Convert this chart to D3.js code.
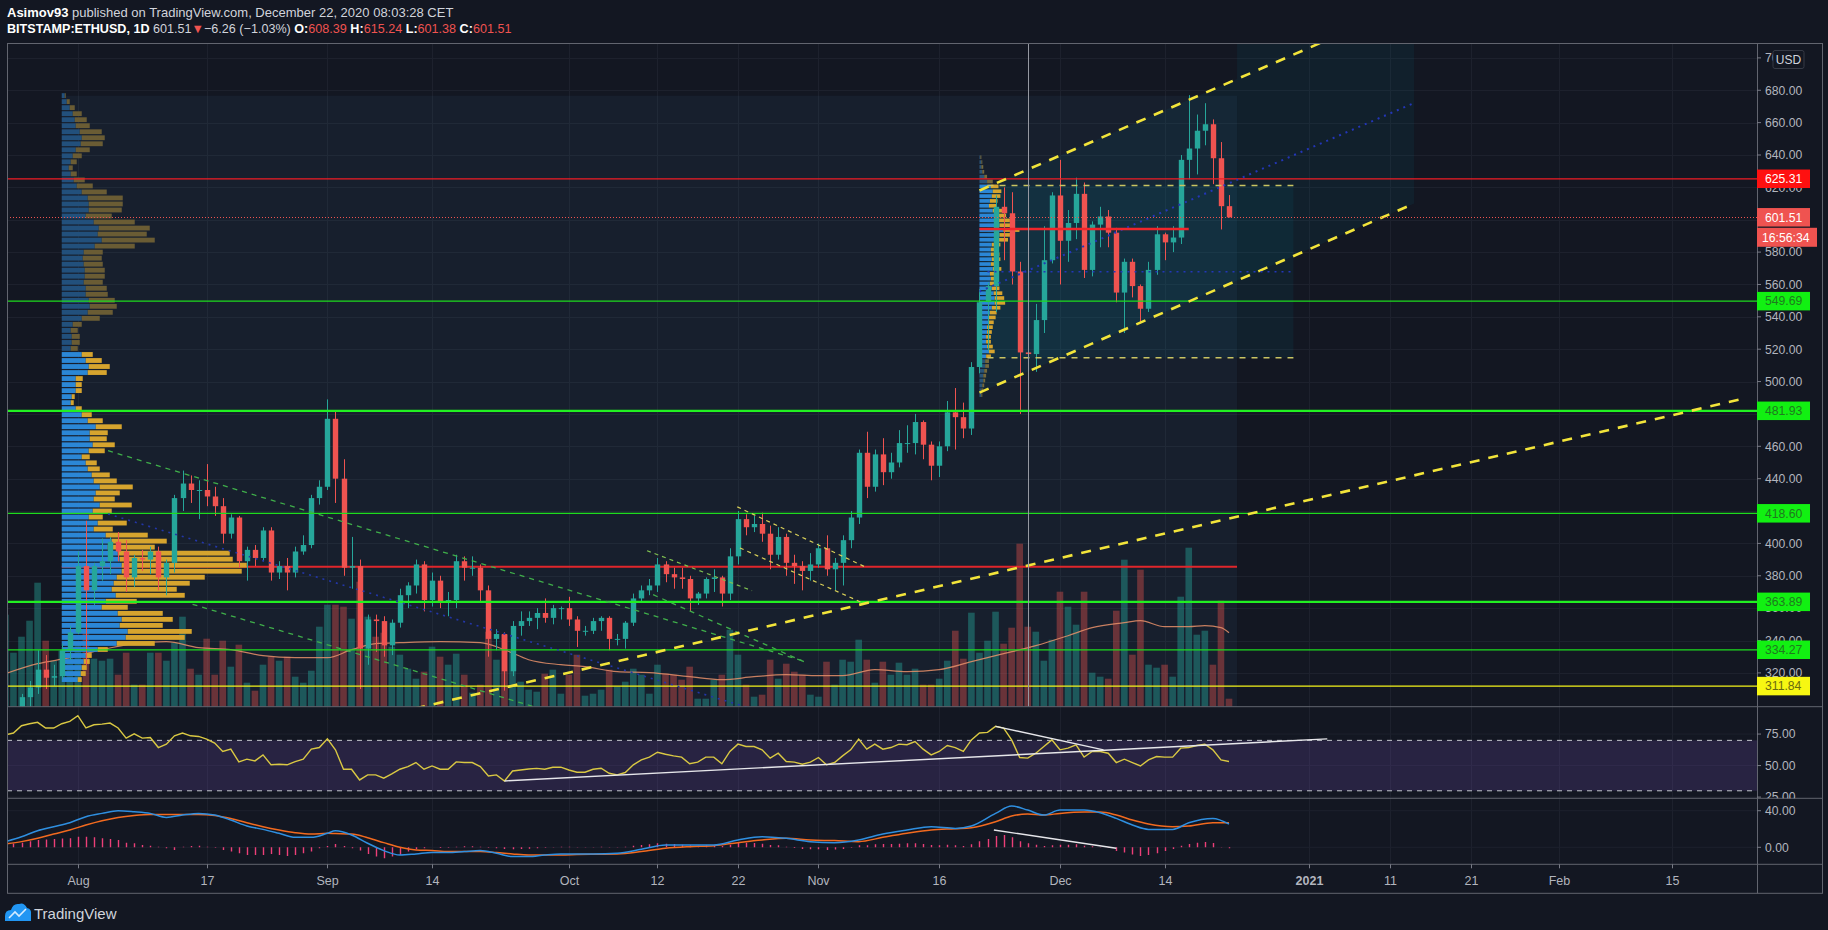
<!DOCTYPE html>
<html>
<head>
<meta charset="utf-8">
<script src="https://d3js.org/d3.v7.min.js"></script>
<style>
  html, body { margin: 0; padding: 0; background: #131722; }
  svg { display: block; }
  text { font-family: "Liberation Sans", Arial, sans-serif; }
</style>
</head>
<body>
<svg id="chart" width="1828" height="930"></svg>
<script>
// ---- daily candles, BITSTAMP:ETHUSD 1D, first bar 2020-07-23 ----
const firstDay = "2020-07-23";
const opens = [
  263, 275, 279, 305, 311, 322, 317, 318, 334,
  345, 386, 371, 386, 389, 401, 395, 379, 391, 390, 395, 379, 388, 428, 437, 433, 433, 429, 423, 406, 416, 389, 396, 391, 408, 382, 386, 382, 395, 399, 428,
  435, 477, 440, 385, 386, 335, 353, 352, 337, 351, 368, 374, 387, 365, 377, 364, 365, 389, 385, 385, 371, 341, 344, 321, 349, 352, 354, 357, 354, 360,
  360, 353, 346, 346, 352, 354, 341, 341, 351, 366, 371, 374, 387, 381, 379, 378, 366, 369, 378, 379, 369, 392, 415, 410, 412, 406, 393, 404, 388, 386, 383,
  387, 397, 384, 388, 402, 416, 456, 435, 455, 444, 450, 462, 462, 475, 461, 448, 460, 481, 478, 471, 509, 549, 559, 608, 604, 568, 518, 517, 538, 575,
  615, 587, 598, 616, 569, 597, 602, 592, 555, 574, 559, 545, 569, 591, 586, 589, 637, 644, 655, 659, 638, 608.39
];
const highs = [
  276, 283, 307, 315, 334, 331, 325, 338, 349,
  395, 414, 388, 403, 404, 407, 402, 393, 396, 398, 398, 390, 430, 445, 442, 439, 449, 435, 428, 418, 417, 398, 399, 410, 410, 389, 391, 398, 405, 430, 439,
  489, 482, 452, 404, 390, 356, 356, 355, 353, 372, 376, 390, 389, 382, 380, 370, 393, 392, 392, 387, 374, 347, 345, 352, 358, 358, 360, 366, 362, 361,
  367, 355, 349, 354, 355, 355, 344, 352, 369, 374, 378, 391, 389, 385, 385, 380, 370, 379, 384, 380, 397, 420, 418, 417, 419, 411, 410, 406, 393, 389, 394,
  400, 405, 391, 405, 420, 458, 469, 458, 465, 456, 470, 473, 480, 476, 463, 463, 488, 496, 487, 512, 557, 561, 615, 620, 617, 574, 534, 548, 596, 617,
  637, 606, 626, 623, 599, 608, 606, 595, 576, 576, 560, 574, 596, 592, 596, 640, 677, 665, 672, 662, 648, 615.24
];
const lows = [
  260, 273, 278, 298, 307, 310, 312, 316, 328,
  344, 325, 362, 377, 381, 389, 370, 373, 383, 381, 371, 368, 382, 420, 425, 415, 423, 417, 400, 403, 385, 377, 386, 389, 377, 378, 371, 379, 393, 397, 424,
  433, 425, 380, 372, 310, 325, 333, 330, 331, 348, 360, 369, 358, 361, 360, 355, 360, 377, 380, 364, 330, 334, 309, 318, 343, 349, 347, 351, 350, 353,
  349, 336, 343, 344, 346, 334, 337, 335, 349, 364, 368, 370, 376, 372, 372, 358, 362, 366, 370, 361, 365, 387, 405, 407, 401, 384, 390, 380, 375, 371, 377,
  385, 380, 371, 374, 397, 412, 428, 432, 436, 440, 447, 456, 455, 452, 439, 441, 457, 458, 465, 467, 505, 519, 543, 575, 560, 480, 485, 506, 530, 573,
  560, 574, 588, 564, 565, 583, 583, 549, 530, 552, 537, 543, 566, 575, 580, 585, 625, 628, 646, 622, 594, 601.38
];
const closes = [
  275, 279, 305, 311, 322, 317, 318, 334, 345,
  386, 371, 386, 389, 401, 395, 379, 391, 390, 395, 379, 388, 428, 437, 433, 433, 429, 423, 406, 416, 389, 396, 391, 408, 382, 386, 382, 395, 399, 428, 435,
  477, 440, 385, 386, 335, 353, 352, 337, 351, 368, 374, 387, 365, 377, 364, 365, 389, 385, 385, 371, 341, 344, 321, 349, 352, 354, 357, 354, 360, 360,
  353, 346, 346, 352, 354, 341, 341, 351, 366, 371, 374, 387, 381, 379, 378, 366, 369, 378, 379, 369, 392, 415, 410, 412, 406, 393, 404, 388, 386, 383, 387,
  397, 384, 388, 402, 416, 456, 435, 455, 444, 450, 462, 462, 475, 461, 448, 460, 481, 478, 471, 509, 549, 559, 608, 604, 568, 518, 517, 538, 575, 615,
  587, 598, 616, 569, 597, 602, 592, 555, 574, 559, 545, 569, 591, 586, 589, 637, 644, 655, 659, 638, 608.39, 601.51
];
// volume (thousand ETH)
const volumes = [
  92, 54, 70, 86, 124, 66, 46, 56, 54,
  62, 78, 48, 46, 48, 32, 54, 22, 22, 54, 54, 46, 64, 90, 38, 32, 68, 32, 66, 40, 62, 24, 16, 42, 50, 46, 50, 30, 24, 36, 80,
  102, 102, 100, 88, 125, 90, 70, 74, 60, 52, 38, 28, 35, 60, 50, 42, 53, 32, 14, 22, 75, 47, 72, 57, 25, 17, 15, 33, 37, 13,
  32, 52, 11, 13, 17, 37, 20, 25, 38, 32, 13, 42, 33, 32, 27, 40, 8, 8, 27, 32, 77, 52, 22, 10, 12, 47, 28, 43, 35, 32, 12,
  10, 45, 22, 47, 45, 67, 47, 24, 45, 32, 44, 32, 38, 22, 22, 28, 46, 76, 48, 94, 54, 66, 95, 63, 79, 163, 80, 75, 46, 67,
  115, 100, 82, 115, 34, 30, 28, 96, 147, 52, 137, 42, 39, 42, 30, 110, 159, 72, 76, 42, 106, 8
];
const volMaDates = ["2020-07-23", "2020-07-27", "2020-07-31", "2020-08-04", "2020-08-08", "2020-08-12", "2020-08-16", "2020-08-20",
  "2020-08-24", "2020-08-28", "2020-09-01", "2020-09-04", "2020-09-07", "2020-09-10", "2020-09-15", "2020-09-20", "2020-09-23",
  "2020-09-26", "2020-09-30", "2020-10-03", "2020-10-07", "2020-10-11", "2020-10-16", "2020-10-20", "2020-10-24", "2020-10-28",
  "2020-11-01", "2020-11-04", "2020-11-08", "2020-11-12", "2020-11-16", "2020-11-20", "2020-11-24", "2020-11-28", "2020-12-02",
  "2020-12-05", "2020-12-09", "2020-12-11", "2020-12-14", "2020-12-17", "2020-12-19", "2020-12-21", "2020-12-22"];
const volMaValues = [33, 43, 49, 57, 63, 65, 59, 57, 51, 49, 49, 57, 63, 64, 65, 64, 57, 47, 42, 40, 35, 34, 30, 27, 30, 32,
  31, 31, 37, 35, 37, 45, 53, 61, 71, 79, 84, 86, 80, 80, 81, 79, 74];

// RSI(14), one value per bar
const rsiValues = [
  74.4, 75.8, 81.6, 83.2, 84.3, 79.8, 79.8, 83.2, 85.1,
  89.6, 79.8, 82.4, 82.9, 83.7, 79.8, 71.8, 75.2, 71.8, 72.3, 64.3, 67, 73.6, 75.8, 73.6, 73.1, 71, 67.8, 61.2, 63, 52.9, 55.1, 53.7, 58.5, 50.6, 51.1, 50.6, 53.2, 55.1, 63, 64.3,
  71.2, 62.5, 47.1, 47.1, 38.6, 42.6, 42.6, 40, 43.4, 47.1, 49.2, 52.4, 47.1, 49.7, 47.1, 47.1, 52.9, 52.4, 52.4, 49.2, 41.8, 42.6, 37.8, 45.7, 46.5, 47.3, 47.8, 47.1, 48.7, 48.7,
  46.5, 44.7, 44.7, 47.1, 47.9, 43.9, 42.6, 44.5, 50.6, 54.5, 56.7, 60.6, 59, 57.7, 56.7, 51.4, 52.7, 56.7, 56.7, 51.4, 61.2, 67, 65.1, 65.1, 62.5, 55.9, 59.8, 53.2, 52.7, 51.1, 52.7,
  56.4, 50.6, 52.4, 57.7, 62.5, 71, 63, 67, 63, 64.3, 67, 66.5, 69.1, 63, 58.5, 61.2, 65.9, 64.3, 61.2, 70.4, 75.8, 76.3, 81.1, 79.7, 70.4, 56.4, 55.9, 59.8, 65.1, 70.4,
  62.5, 63.8, 66.5, 56.7, 61.2, 61.2, 59.8, 52.4, 55.1, 52.4, 49.7, 54.5, 57.2, 56.7, 56.7, 63.8, 64.3, 65.9, 67, 62.5, 54.5, 53.2
];
const rsiBand = [30, 70];

// MACD (12, 26, 9): line and signal read at these dates, histogram per bar
const macdDates = ["2020-07-23", "2020-07-25", "2020-07-27", "2020-07-29", "2020-07-31", "2020-08-02", "2020-08-04", "2020-08-06",
  "2020-08-08", "2020-08-10", "2020-08-12", "2020-08-14", "2020-08-16", "2020-08-18", "2020-08-20", "2020-08-22", "2020-08-24",
  "2020-08-26", "2020-08-28", "2020-08-30", "2020-09-01", "2020-09-02", "2020-09-04", "2020-09-06", "2020-09-08", "2020-09-10",
  "2020-09-12", "2020-09-14", "2020-09-16", "2020-09-18", "2020-09-20", "2020-09-22", "2020-09-24", "2020-09-26", "2020-09-28",
  "2020-09-30", "2020-10-02", "2020-10-04", "2020-10-07", "2020-10-10", "2020-10-13", "2020-10-16", "2020-10-19", "2020-10-22",
  "2020-10-25", "2020-10-28", "2020-10-31", "2020-11-03", "2020-11-06", "2020-11-09", "2020-11-12", "2020-11-15", "2020-11-18",
  "2020-11-20", "2020-11-23", "2020-11-25", "2020-11-27", "2020-11-29", "2020-12-01", "2020-12-04", "2020-12-06", "2020-12-08",
  "2020-12-10", "2020-12-12", "2020-12-15", "2020-12-17", "2020-12-20", "2020-12-22"];
const macdValues = [6.2, 11.6, 18.2, 22.5, 26.9, 33.5, 37.1, 40, 38.9, 37.1, 32.7, 35.3, 37.1, 35.3, 29.8, 23.3, 19.6,
  15.3, 10.9, 10.9, 15.3, 18, 13.5, 4.4, -3.6, -8.4, -7.3, -5.8, -5.8, -4.7, -3.6, -6.5, -10.2, -10.2, -8.4,
  -7.3, -7.3, -7.3, -6.5, -2.2, 2.5, 2.5, 2.5, 8, 11.6, 9.8, 6.2, 5.1, 8, 14.5, 18.9, 22.5, 20.7,
  23.3, 37.1, 45.1, 40.7, 35.3, 40.7, 40.7, 37.8, 31.6, 24.4, 19.6, 19.6, 26.9, 31.6, 25.5];
const signalValues = [3.6, 6.2, 9.8, 14.5, 18.9, 24.4, 29.1, 32.7, 34.9, 36, 36, 36, 36, 34.9, 31.6, 26.9, 22.5,
  18.9, 16, 14.5, 15.3, 15, 14.5, 10.5, 5.1, 0, -2.9, -3.6, -4.7, -4.7, -4.7, -5.8, -7.3, -8.4, -8.4,
  -8.4, -8, -7.6, -7.3, -4.7, -1.1, 0.7, 1.8, 5.1, 8, 9.8, 8, 7.3, 6.2, 10.9, 15.3, 18.9, 20.4,
  21.5, 28, 34.2, 36.4, 35.3, 37.1, 38.5, 38.5, 35.3, 29.8, 25.5, 22.5, 23.3, 26.9, 26.9];
const histValues = [
  3.6, 4.2, 5, 6.5, 8, 8.5, 9, 9.5, 10,
  11.6, 11.6, 10.9, 10, 9, 8, 5, 4.4, 2.5, 1.8, 0.7, -1.1, -2.9, 0.7, 1.5, 1.8, 0.7, -0.4, -2.9, -4.7, -6.5, -8.4, -8.4, -8.4, -7.3, -8.4, -9.5, -8.4, -6.5, -4.7, -1.1,
  1.5, 3.6, 1.5, -1.1, -3.6, -7.3, -10.2, -12, -10.2, -8.4, -4.7, -2.2, -1.1, 0, -0.7, -0.4, 0.7, 1.1, 1.1, 0.7, -0.4, -1.1, -1.8, -2.2, -1.8, -1.5, -1.1, -0.4, 0.4, 0.7,
  0.7, 0.4, 0.4, 0.4, 0.7, 0.4, 0.4, 0.7, 1.8, 2.5, 3.3, 4.4, 4, 3.6, 2.9, 2.2, 1.8, 2.2, 2.2, 1.5, 2.9, 4.7, 5.1, 4.7, 4, 2.5, 2.2, 0.7, -0.7, -1.8, -2.2,
  -2.2, -2.9, -2.5, -1.8, -0.4, 2.2, 2.2, 3.3, 3.6, 3.6, 4, 4.4, 4.4, 3.6, 2.5, 2.2, 2.9, 2.2, 1.5, 3.3, 6.5, 9, 12.4, 13.5, 10.9, 6.5, 4.4, 2.9, 1.5, 2.2,
  2.9, 2.9, 3.3, 1.8, 1.1, 0.4, -0.7, -4, -5.8, -8, -9.5, -8.4, -6.5, -4, -1.8, 1.8, 3.6, 5.1, 5.8, 4.7, 0.4, -1.1
];

// visible range volume profile: rows of 3.72 USD from 678.5 down, up / down volume
const vpTopPrice = 678.5;
const vpRowStep = 3.72;
const vpUp = [3, 5, 8, 11, 13, 14, 18, 20, 19, 14, 11, 9, 7, 9, 12, 15, 20, 26, 27, 27,
  24, 32, 37, 36, 40, 33, 22, 21, 22, 23, 23, 22, 24, 24, 27, 28, 26, 20, 11, 9,
  10, 10, 9, 20, 24, 27, 26, 14, 14, 14, 10, 9, 14, 20, 26, 34, 28, 28, 31, 27,
  20, 24, 26, 30, 32, 38, 34, 32, 38, 31, 27, 36, 32, 44, 50, 46, 56, 58, 60, 60,
  55, 52, 50, 54, 44, 40, 56, 60, 58, 66, 64, 55, 36, 24, 22, 20, 19, 16];
const vpDown = [1, 3, 5, 9, 12, 14, 22, 23, 22, 14, 9, 6, 4, 6, 11, 16, 25, 35, 34, 33,
  26, 41, 51, 49, 53, 40, 19, 19, 19, 20, 20, 19, 21, 22, 26, 27, 25, 18, 9, 7,
  8, 8, 7, 11, 16, 21, 19, 7, 6, 6, 3, 3, 6, 10, 15, 26, 18, 17, 22, 16,
  8, 11, 12, 18, 23, 33, 24, 21, 32, 19, 14, 29, 19, 42, 55, 47, 112, 113, 125, 120,
  88, 76, 65, 69, 31, 26, 45, 51, 43, 64, 59, 38, 10, 6, 6, 5, 5, 4];
const vpValueArea = [517, 314];
const vpRange = ["2020-07-30", "2020-12-23"];
const vpPoc = 385.6;

// fixed range volume profile from 2020-11-21: rows of 3 USD from 640 down
const frStart = "2020-11-21";
const frTopPrice = 640;
const frRowStep = 3;
const frUp = [1, 2, 2, 3, 5, 8, 12, 14, 13, 11, 10, 14, 17, 19, 21, 25, 21, 18, 13, 12, 12, 13, 12, 14, 11,
  12, 11, 13, 15, 16, 16, 13, 11, 10, 9, 8, 8, 7, 7, 8, 10, 7, 6, 6, 5, 4, 4, 3, 2, 2];
const frDown = [1, 1, 2, 2, 3, 6, 8, 9, 9, 8, 8, 10, 11, 13, 15, 17, 14, 12, 9, 8, 9, 9, 8, 9, 8,
  8, 7, 8, 9, 10, 11, 9, 7, 7, 6, 6, 5, 5, 5, 6, 6, 5, 4, 4, 3, 3, 2, 2, 2, 1];
const frValueArea = [622, 514];
const frPoc = [["2020-11-21", 594.3], ["2020-12-17", 594.3]];
const frBox = [["2020-11-22", 621.1], ["2020-12-30", 514.7]];

// drawings: [date, price] end points
const levelPrices = [625.31, 549.69, 481.93, 418.60, 363.89, 334.27, 311.84];
const levelKinds = ["res", "sup", "supStrong", "sup", "supStrong", "sup", "base"];
const greenUpper = [["2020-08-04T18:00Z", 457.3], ["2020-10-30", 327.5]];
const greenMid = [["2020-08-04T18:00Z", 418.2], ["2020-10-30", 288.4]];
const greenLower = [["2020-08-15T06:00Z", 362.4], ["2020-10-30", 249.3]];
const octGreenUpper = [["2020-10-10T17:00Z", 395.5], ["2020-10-23T18:00Z", 370.8]];
const octGreenLower = [["2020-10-11T11:00Z", 368.3], ["2020-10-30T05:00Z", 326.9]];
const octYellowUpper = [["2020-10-21T22:00Z", 422.6], ["2020-11-06T19:00Z", 385.5]];
const octYellowLower = [["2020-10-22T06:00Z", 397.2], ["2020-11-06T12:00Z", 363.2]];
const supportLine = [["2020-09-05", 290], ["2021-02-24", 489.6]];
const chanUpper = [["2020-11-21", 618.1], ["2021-01-14", 734.3]];
const chanMid = [["2020-11-21", 555.65], ["2021-01-14", 672.15]];
const chanLower = [["2020-11-21", 493.2], ["2021-01-14", 610]];
const crosshairDate = "2020-11-27";
const rsiTrend = [["2020-09-23", 37.8], ["2021-01-03T05:00Z", 71.2]];
const rsiTrend2 = [["2020-11-23", 81.1], ["2020-12-06T10:00Z", 62.5]];
const macdTrend = [["2020-11-22T19:00Z", 18.9], ["2020-12-08", -1.1]];

const lastPrice = 601.51;
const countdown = "16:56:34";
const priceTicks = [320, 340, 360, 380, 400, 420, 440, 460, 480, 500, 520, 540, 560, 580, 600, 620, 640, 660, 680, 700];
const rsiTicks = [25, 50, 75];
const macdTicks = [0, 40];
const timeTicks = [["2020-08-01", "Aug"], ["2020-08-17", "17"], ["2020-09-01", "Sep"], ["2020-09-14", "14"],
  ["2020-10-01", "Oct"], ["2020-10-12", "12"], ["2020-10-22", "22"], ["2020-11-01", "Nov"], ["2020-11-16", "16"],
  ["2020-12-01", "Dec"], ["2020-12-14", "14"], ["2021-01-01", "2021"], ["2021-01-11", "11"], ["2021-01-21", "21"],
  ["2021-02-01", "Feb"], ["2021-02-15", "15"]];

// ---- layout ----
const L = 7, R = 1757, AX = 1822;
const P_TOP = 43.5, P_BOT = 706.7, RSI_BOT = 798.3, MACD_BOT = 864.3, X_BOT = 893.3;
const UP = "#26a69a", DOWN = "#ef5350";

const svg = d3.select("#chart");
const D = (s) => new Date(s);
const days = d3.utcDay.range(D(firstDay), d3.utcDay.offset(D(firstDay), opens.length));

const x = d3.scaleUtc().domain([D("2020-07-23"), D("2021-02-01")]).range([5.4, 1559.05]);
const y = d3.scaleLinear().domain([299.1, 708.9]).range([P_BOT, P_TOP]);
const yVol = d3.scaleLinear().domain([0, 200]).range([P_BOT, P_BOT - 200]);
const yRsi = d3.scaleLinear().domain([24.04, 96.7]).range([RSI_BOT, P_BOT]);
const yMacd = d3.scaleLinear().domain([-18.6, 53.6]).range([MACD_BOT, RSI_BOT]);

svg.append("rect").attr("width", 1828).attr("height", 930).attr("fill", "#131722");

const defs = svg.append("defs");
function clip(id, x0, y0, x1, y1) {
  defs.append("clipPath").attr("id", id).append("rect")
    .attr("x", x0).attr("y", y0).attr("width", x1 - x0).attr("height", y1 - y0);
}
clip("cp-price", L, P_TOP, R, P_BOT);
clip("cp-rsi", L, P_BOT, R, RSI_BOT);
clip("cp-macd", L, RSI_BOT, R, MACD_BOT);
clip("cp-ax-rsi", R, P_BOT, AX, RSI_BOT);

// grid
const grid = svg.append("g").attr("stroke", "#1d212d").attr("stroke-width", 1);
timeTicks.forEach(([d]) => {
  const gx = Math.round(x(D(d))) + 0.5;
  grid.append("line").attr("x1", gx).attr("x2", gx).attr("y1", P_TOP).attr("y2", MACD_BOT);
});
priceTicks.forEach((p) => {
  const gy = Math.round(y(p)) + 0.5;
  if (gy > P_TOP) grid.append("line").attr("x1", L).attr("x2", R).attr("y1", gy).attr("y2", gy);
});
rsiTicks.forEach((r) => grid.append("line").attr("x1", L).attr("x2", R).attr("y1", yRsi(r)).attr("y2", yRsi(r)));
macdTicks.forEach((m) => grid.append("line").attr("x1", L).attr("x2", R).attr("y1", yMacd(m)).attr("y2", yMacd(m)));

// ---- price pane ----
const gP = svg.append("g").attr("clip-path", "url(#cp-price)");
const pt = (a) => [x(D(a[0])), y(a[1])];
const lerpY = (a, px) => {
  const p0 = pt(a[0]), p1 = pt(a[1]);
  return p0[1] + (p1[1] - p0[1]) * (px - p0[0]) / (p1[0] - p0[0]);
};

// shaded zones
const vpX0 = x(D(vpRange[0])), vpX1 = x(D(vpRange[1]));
gP.append("rect").attr("x", vpX0).attr("y", y(vpTopPrice - 1.9))
  .attr("width", vpX1 - vpX0).attr("height", P_BOT - y(vpTopPrice - 1.9))
  .attr("fill", "rgba(70,120,170,0.09)");
const chX0 = pt(chanUpper[0])[0], chX1 = pt(chanUpper[1])[0];
gP.append("path")
  .attr("d", d3.line()([
    pt(chanUpper[0]), [vpX1, lerpY(chanUpper, vpX1)], [vpX1, P_TOP], [chX1, P_TOP],
    [chX1, lerpY(chanLower, chX1)], pt(chanLower[0])
  ]) + "Z")
  .attr("fill", "rgba(0,150,170,0.075)");
gP.append("rect").attr("x", pt(frBox[0])[0]).attr("y", pt(frBox[0])[1])
  .attr("width", pt(frBox[1])[0] - pt(frBox[0])[0]).attr("height", pt(frBox[1])[1] - pt(frBox[0])[1])
  .attr("fill", "rgba(0,170,200,0.07)");

// volume
gP.append("g").selectAll("rect").data(days).join("rect")
  .attr("x", (d) => x(d) - 3.3).attr("width", 6.6)
  .attr("y", (d, i) => yVol(volumes[i])).attr("height", (d, i) => P_BOT - yVol(volumes[i]))
  .attr("fill", (d, i) => closes[i] >= opens[i] ? UP : DOWN)
  .attr("fill-opacity", (d, i) => closes[i] >= opens[i] ? 0.42 : 0.38);
gP.append("path")
  .attr("d", d3.line().curve(d3.curveMonotoneX).x((d) => x(D(d))).y((d, i) => yVol(volMaValues[i]))(volMaDates))
  .attr("fill", "none").attr("stroke", "#e8916a").attr("stroke-width", 1.2).attr("opacity", 0.85);

// visible range volume profile (POC line under the rows)
gP.append("line").attr("x1", vpX0).attr("x2", vpX1)
  .attr("y1", y(vpPoc)).attr("y2", y(vpPoc)).attr("stroke", "#e0262b").attr("stroke-width", 2);
const vpW = d3.scaleLinear().domain([0, d3.max(vpUp, (u, i) => u + vpDown[i])]).range([0, 185]);
const gVP = gP.append("g");
vpUp.forEach((u, i) => {
  const top = vpTopPrice - i * vpRowStep;
  const mid = top - vpRowStep / 2;
  const inVA = mid <= vpValueArea[0] && mid >= vpValueArea[1];
  const yy = y(top) + 0.5, hh = y(top - vpRowStep) - y(top) - 1.2;
  gVP.append("rect").attr("x", vpX0).attr("y", yy).attr("width", vpW(u)).attr("height", hh)
    .attr("fill", inVA ? "#2b87d6" : "#22507c");
  gVP.append("rect").attr("x", vpX0 + vpW(u)).attr("y", yy).attr("width", vpW(vpDown[i])).attr("height", hh)
    .attr("fill", inVA ? "#d6a42e" : "#6a5c34");
});

// fixed range profile
const frW = d3.scaleLinear().domain([0, d3.max(frUp, (u, i) => u + frDown[i])]).range([0, 40]);
const frX0 = x(D(frStart));
frUp.forEach((u, i) => {
  const top = frTopPrice - i * frRowStep;
  const mid = top - frRowStep / 2;
  const inVA = mid <= frValueArea[0] && mid >= frValueArea[1];
  const yy = y(top) + 0.4, hh = Math.max(1, y(top - frRowStep) - y(top) - 1.2);
  gP.append("rect").attr("x", frX0).attr("y", yy).attr("width", frW(u)).attr("height", hh)
    .attr("fill", inVA ? "#2b87d6" : "#2a5478");
  gP.append("rect").attr("x", frX0 + frW(u)).attr("y", yy).attr("width", frW(frDown[i])).attr("height", hh)
    .attr("fill", inVA ? "#d6a42e" : "#75693c");
});

// candles
const bw = 5.4;
const gC = gP.append("g");
days.forEach((d, i) => {
  const up = closes[i] >= opens[i];
  const cx = Math.round(x(d)) + 0.5;
  const c = up ? UP : DOWN;
  gC.append("line").attr("x1", cx).attr("x2", cx).attr("y1", y(highs[i])).attr("y2", y(lows[i]))
    .attr("stroke", c).attr("stroke-width", 1);
  const yt = y(Math.max(opens[i], closes[i])), yb = y(Math.min(opens[i], closes[i]));
  gC.append("rect").attr("x", cx - bw / 2).attr("y", yt).attr("width", bw).attr("height", Math.max(1, yb - yt))
    .attr("fill", c);
});

// horizontal levels
const levelStyle = {
  res: { c: "#f21d24", w: 1.2 }, sup: { c: "#1edc1e", w: 1.2 },
  supStrong: { c: "#22f022", w: 2.2 }, base: { c: "#f5f51a", w: 1.2 }
};
levelPrices.forEach((p, i) => {
  const s = levelStyle[levelKinds[i]];
  gP.append("line").attr("x1", L).attr("x2", R).attr("y1", y(p)).attr("y2", y(p))
    .attr("stroke", s.c).attr("stroke-width", s.w);
});

// trend lines and channels
function seg(a, color, width, dash) {
  gP.append("line")
    .attr("x1", pt(a[0])[0]).attr("y1", pt(a[0])[1]).attr("x2", pt(a[1])[0]).attr("y2", pt(a[1])[1])
    .attr("stroke", color).attr("stroke-width", width).attr("stroke-dasharray", dash);
}
seg(greenUpper, "#3fae4a", 1.3, "5,5");
seg(greenLower, "#3fae4a", 1.3, "5,5");
seg(greenMid, "#2336a8", 1.6, "2,5");
seg(octGreenUpper, "#7fc050", 1.2, "4,4");
seg(octGreenLower, "#3fae4a", 1.3, "5,5");
seg(octYellowUpper, "#d8cf58", 1.2, "4,4");
seg(octYellowLower, "#d8cf58", 1.2, "4,4");
seg(supportLine, "#f2e43a", 2.6, "10,9");
seg(chanUpper, "#f2e43a", 2.6, "10,9");
seg(chanLower, "#f2e43a", 2.6, "10,9");
seg(chanMid, "#2336b8", 2, "2,5");
seg([[frBox[0][0], frBox[0][1]], [frBox[1][0], frBox[0][1]]], "#c9c462", 1.5, "6,6");
seg([[frBox[0][0], frBox[1][1]], [frBox[1][0], frBox[1][1]]], "#c9c462", 1.5, "6,6");
seg([[frBox[0][0], (frBox[0][1] + frBox[1][1]) / 2], [frBox[1][0], (frBox[0][1] + frBox[1][1]) / 2]], "#2336b8", 1.6, "2,5");
seg(frPoc, "#f0262b", 2.4, null);

// last price dotted line and crosshair
gP.append("line").attr("x1", L).attr("x2", R).attr("y1", Math.round(y(lastPrice)) + 0.5).attr("y2", Math.round(y(lastPrice)) + 0.5)
  .attr("stroke", "#ef5350").attr("stroke-width", 1).attr("stroke-dasharray", "1,2");
const chx = Math.round(x(D(crosshairDate))) + 0.5;
gP.append("line").attr("x1", chx).attr("x2", chx).attr("y1", P_TOP).attr("y2", P_BOT)
  .attr("stroke", "#9598a1").attr("stroke-width", 1);

// ---- RSI pane ----
const gR = svg.append("g").attr("clip-path", "url(#cp-rsi)");
gR.append("rect").attr("x", L).attr("width", R - L).attr("y", yRsi(rsiBand[1])).attr("height", yRsi(rsiBand[0]) - yRsi(rsiBand[1]))
  .attr("fill", "rgba(126,87,194,0.2)");
rsiBand.forEach((r) => gR.append("line").attr("x1", L).attr("x2", R).attr("y1", yRsi(r)).attr("y2", yRsi(r))
  .attr("stroke", "#c3c6ce").attr("stroke-width", 1).attr("stroke-dasharray", "5,5"));
gR.append("path").attr("d", d3.line().x((d) => x(d)).y((d, i) => yRsi(rsiValues[i]))(days))
  .attr("fill", "none").attr("stroke", "#d9c843").attr("stroke-width", 1.4);
[rsiTrend, rsiTrend2].forEach((t) => gR.append("line")
  .attr("x1", x(D(t[0][0]))).attr("y1", yRsi(t[0][1])).attr("x2", x(D(t[1][0]))).attr("y2", yRsi(t[1][1]))
  .attr("stroke", "#e6e6ea").attr("stroke-width", 1.4));

// ---- MACD pane ----
const gM = svg.append("g").attr("clip-path", "url(#cp-macd)");
gM.append("g").selectAll("line").data(days).join("line")
  .attr("x1", (d) => Math.round(x(d)) + 0.5).attr("x2", (d) => Math.round(x(d)) + 0.5)
  .attr("y1", yMacd(0)).attr("y2", (d, i) => yMacd(histValues[i]))
  .attr("stroke", "#ec3f78").attr("stroke-width", 1.4);
gM.append("path").attr("d", d3.line().curve(d3.curveMonotoneX).x((d) => x(D(d))).y((d, i) => yMacd(signalValues[i]))(macdDates))
  .attr("fill", "none").attr("stroke", "#f26a1f").attr("stroke-width", 1.5);
gM.append("path").attr("d", d3.line().curve(d3.curveMonotoneX).x((d) => x(D(d))).y((d, i) => yMacd(macdValues[i]))(macdDates))
  .attr("fill", "none").attr("stroke", "#2f8fe0").attr("stroke-width", 1.5);
gM.append("line").attr("x1", x(D(macdTrend[0][0]))).attr("y1", yMacd(macdTrend[0][1]))
  .attr("x2", x(D(macdTrend[1][0]))).attr("y2", yMacd(macdTrend[1][1]))
  .attr("stroke", "#e6e6ea").attr("stroke-width", 1.4);

// ---- frame ----
const frame = svg.append("g").attr("stroke", "#62656f").attr("stroke-width", 1).attr("fill", "none");
frame.append("rect").attr("x", L + 0.5).attr("y", P_TOP).attr("width", AX - L).attr("height", X_BOT - P_TOP);
[P_BOT, RSI_BOT, MACD_BOT].forEach((yy) => frame.append("line").attr("x1", L).attr("x2", AX).attr("y1", yy).attr("y2", yy));
frame.append("line").attr("x1", R + 0.5).attr("x2", R + 0.5).attr("y1", P_TOP).attr("y2", X_BOT);

// ---- price axis ----
const axG = svg.append("g").attr("font-size", 12.2);
const fmt = d3.format(".2f");
const labelled = levelPrices.concat([lastPrice]);
priceTicks.forEach((p) => {
  const ty = y(p);
  axG.append("line").attr("x1", R).attr("x2", R + 4).attr("y1", ty).attr("y2", ty).attr("stroke", "#787b86");
  // a tick label fully under a coloured price label is not drawn
  if (labelled.some((q) => Math.abs(y(q) - ty) < 5)) return;
  axG.append("text").attr("x", R + 8).attr("y", ty + 4.3).attr("fill", "#b2b5be").text(fmt(p));
});
const rsiAx = svg.append("g").attr("font-size", 12.2).attr("clip-path", "url(#cp-ax-rsi)");
rsiTicks.forEach((r) => {
  rsiAx.append("line").attr("x1", R).attr("x2", R + 4).attr("y1", yRsi(r)).attr("y2", yRsi(r)).attr("stroke", "#787b86");
  rsiAx.append("text").attr("x", R + 8).attr("y", yRsi(r) + 4.3).attr("fill", "#b2b5be").text(fmt(r));
});
macdTicks.forEach((m) => {
  axG.append("line").attr("x1", R).attr("x2", R + 4).attr("y1", yMacd(m)).attr("y2", yMacd(m)).attr("stroke", "#787b86");
  axG.append("text").attr("x", R + 8).attr("y", yMacd(m) + 4.3).attr("fill", "#b2b5be").text(fmt(m));
});

// colored price labels
const labelColors = {
  res: ["#ff1010", "#ffffff"], sup: ["#12f012", "#1f7a1f"], supStrong: ["#12f012", "#1f7a1f"], base: ["#f7f712", "#6a6a10"]
};
function priceLabel(p, bg, fg, txt, w, h, dy, tx) {
  const cy = y(p) + (dy || 0);
  axG.append("rect").attr("x", R).attr("y", cy - h / 2).attr("width", w).attr("height", h).attr("fill", bg);
  axG.append("text").attr("x", R + (tx || 8)).attr("y", cy + 4.3).attr("fill", fg).text(txt);
}
levelPrices.forEach((p, i) => {
  const c = labelColors[levelKinds[i]];
  priceLabel(p, c[0], c[1], fmt(p), 53, 18.5);
});
priceLabel(lastPrice, "#ef5350", "#ffffff", fmt(lastPrice), 53, 18.5);
priceLabel(lastPrice, "#ef5350", "#ffffff", countdown, 60, 19, 20, 5);

// USD box
svg.append("rect").attr("x", 1773).attr("y", 50.5).attr("width", 31).attr("height", 18).attr("rx", 2)
  .attr("fill", "#131722").attr("stroke", "#363a45");
svg.append("text").attr("x", 1788.5).attr("y", 64).attr("text-anchor", "middle").attr("font-size", 12)
  .attr("fill", "#d1d4dc").text("USD");

// ---- time axis ----
const tG = svg.append("g").attr("font-size", 12.5).attr("fill", "#b2b5be").attr("text-anchor", "middle");
timeTicks.forEach(([d, lab]) => {
  const tx = Math.round(x(D(d))) + 0.5;
  tG.append("line").attr("x1", tx).attr("x2", tx).attr("y1", MACD_BOT).attr("y2", MACD_BOT + 4).attr("stroke", "#787b86");
  tG.append("text").attr("x", tx).attr("y", 884.5).attr("font-weight", lab === "2021" ? "bold" : null).text(lab);
});

// ---- header ----
const hd = svg.append("g").attr("font-size", 13);
const l1 = hd.append("text").attr("x", 7).attr("y", 17);
l1.append("tspan").attr("font-weight", "bold").attr("fill", "#ffffff").text("Asimov93");
l1.append("tspan").attr("fill", "#d1d4dc").text(" published on TradingView.com, December 22, 2020 08:03:28 CET");
const l2 = hd.append("text").attr("x", 7).attr("y", 33).attr("font-size", 12.6);
l2.append("tspan").attr("font-weight", "bold").attr("fill", "#ffffff").text("BITSTAMP:ETHUSD, 1D");
l2.append("tspan").attr("fill", "#d1d4dc").text(" 601.51");
l2.append("tspan").attr("fill", "#ef5350").text("▼");
l2.append("tspan").attr("fill", "#d1d4dc").text("−6.26 (−1.03%) ");
[["O:", "608.39"], ["H:", "615.24"], ["L:", "601.38"], ["C:", "601.51"]].forEach(([k, v], i) => {
  l2.append("tspan").attr("font-weight", "bold").attr("fill", "#ffffff").text((i ? " " : "") + k);
  l2.append("tspan").attr("fill", "#ef5350").text(v);
});

// ---- footer logo ----
svg.append("path")
  .attr("d", "M5,921 L5,916 Q5,910 11,910 Q13,903 19,904 Q24,902 27,908 Q32,909 31,915 L31,921 Z")
  .attr("fill", "#2196f3");
svg.append("path").attr("d", "M9,918 L15,912 L19,916 L26,909").attr("fill", "none")
  .attr("stroke", "#d6ecff").attr("stroke-width", 1.6);
svg.append("text").attr("x", 34).attr("y", 919).attr("font-size", 15).attr("fill", "#d1d4dc").text("TradingView");
</script>
</body>
</html>
